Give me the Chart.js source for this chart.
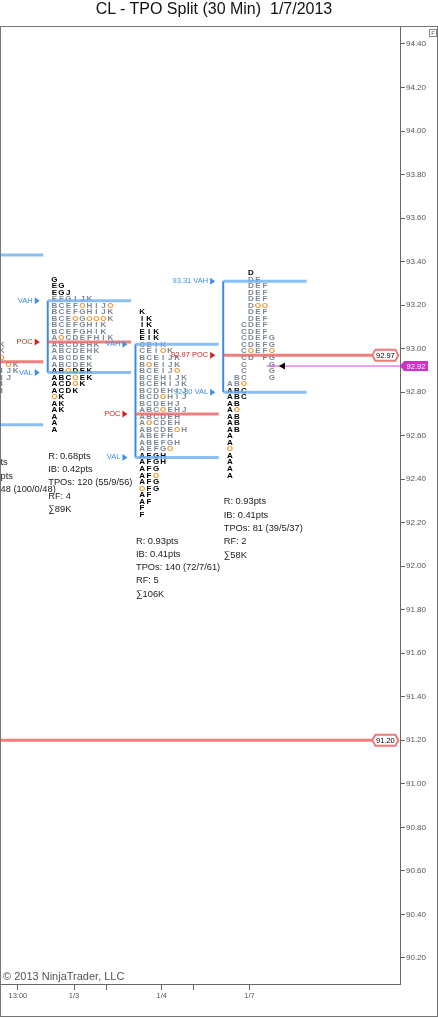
<!DOCTYPE html>
<html>
<head>
<meta charset="utf-8">
<script src="https://cdn.jsdelivr.net/npm/chart.js@4.4.0/dist/chart.umd.min.js"></script>
<style>
  html, body { margin: 0; padding: 0; background: #fff; }
  #wrap { position: relative; width: 438px; height: 1018px; }
  #title { position: absolute; top: 0; left: 0; width: 428px; height: 27px; line-height: 27px;
           text-align: center; font: 16px "Liberation Sans", Arial, sans-serif; color: #111; }
  canvas { position: absolute; top: 0; left: 0; }
</style>
</head>
<body>
<div id="wrap">
  <canvas id="tpo" width="438" height="1018"></canvas>
  <div id="title">CL - TPO Split (30 Min)&nbsp; 1/7/2013</div>
</div>
<script>
// sessions from left to right, x = session index
const sessionNames = ['1/2', '1/3', '1/4', '1/7'];
const sessionX = [0, 1, 2, 3];
const vahPrices = [93.43, 93.22, 93.02, 93.31];
const pocPrices = [92.94, 93.03, 92.70, 92.97];
const valPrices = [92.65, 92.89, 92.50, 92.80];
const topRowPrices = [93.02, 93.32, 93.17, 93.35];
const sessionLows = [92.60, 92.63, 92.24, 92.42];
const tpoSize = 0.03;

// TPO rows, top to bottom. 'o' = orange open/close mark, space = empty slot
const tpo0102 = ['     K', '     K', '     o', '      oK', '     IJK', '     IJ', '     I', '     I'];
const tpo0103 = ['G', 'EG', 'EGJ', 'EFGIJK', 'BCEFoHIJo', 'BCEFGHIJK', 'BCEoGoooK', 'BCEFGHIK',
  'BCEFGHIK', 'AoCDEFHIK', 'ABCDEHK', 'ABCDEHK', 'ABCDEK', 'ABCDEK', 'ABoDEK', 'ABCoEK',
  'ACDoK', 'ACDK', 'oK', 'AK', 'AK', 'A', 'A', 'A'];
const tpo0104 = ['K', 'IK', 'IK', 'EIK', 'EIK', 'CEIK', 'CEIoK', 'BCEIJK', 'BoEIJK', 'BCEIJo',
  'BCEHIJK', 'BCEHIJK', 'BCDEHIJ', 'BCDoHIJ', 'BCDEHJ', 'ABCoEHJ', 'ABCDEH', 'AoCDEH',
  'ABCDEoH', 'ABEFH', 'ABEFGH', 'AEFGo', 'AFGH', 'AFGH', 'AFG', 'AFo', 'AFG', 'oFG',
  'AF', 'AF', 'F', 'F'];
const tpo0107 = ['   D', '   DE', '   DEF', '   DEF', '   DEF', '   Doo', '   DEF', '   DEF',
  '  CDEF', '  CDEF', '  CDEFG', '  CDEFG', '  CoEFo', '  CD FG', '  C   G', '  C   G',
  ' BC   G', 'ABo', 'ABC', 'ABC', 'AB', 'Ao', 'AB', 'AB', 'AB', 'A', 'A', 'o', 'A', 'A', 'A', 'A'];
const profiles = [tpo0102, tpo0103, tpo0104, tpo0107];

// statistics under each profile (the 1/2 block is cut by the left edge)
const stats0102 = ['ts', 'pts', '48 (100/0/48)'];
const stats0103 = ['R: 0.68pts', 'IB: 0.42pts', 'TPOs: 120 (55/9/56)', 'RF: 4', '∑89K'];
const stats0104 = ['R: 0.93pts', 'IB: 0.41pts', 'TPOs: 140 (72/7/61)', 'RF: 5', '∑106K'];
const stats0107 = ['R: 0.93pts', 'IB: 0.41pts', 'TPOs: 81 (39/5/37)', 'RF: 2', '∑58K'];
const statsBlocks = [stats0102, stats0103, stats0104, stats0107];

const nakedPoc = 91.20;
const lastPrice = 92.92;

const priceTicks = [90.2, 90.4, 90.6, 90.8, 91.0, 91.2, 91.4, 91.6, 91.8, 92.0, 92.2,
  92.4, 92.6, 92.8, 93.0, 93.2, 93.4, 93.6, 93.8, 94.0, 94.2, 94.4];
const timeTickValues = [0.66, 1.30, 1.665, 2.30, 2.665, 3.30];
const timeTickLabels = ['13:00', '1/3', '', '1/4', '', '1/7'];

// layout constants (x units = sessions)
const X_MIN = 0.456, X_MAX = 5.015;
const COL0 = 0.075, COL_W = 0.08, LINE_LEN = 0.95, BOX_X = 4.70;
const FONT = '"Liberation Sans", Arial, sans-serif';
const BLUE_LINE = 'rgba(110,175,240,0.8)';
const RED_LINE = 'rgba(236,96,96,0.8)';

Chart.defaults.font.family = FONT;

function hline(x0, x1, y, color, width) {
  return { data: [{ x: x0, y: y }, { x: x1, y: y }], showLine: true, borderColor: color,
    borderWidth: width || 3, pointRadius: 0, tension: 0 };
}

// one point per letter, placed by the scales
function tpoPoints(rows, s) {
  const pts = [];
  rows.forEach((row, r) => {
    const price = topRowPrices[s] - r * tpoSize;
    const inVA = price <= vahPrices[s] + tpoSize / 2 + 1e-6 && price > valPrices[s] + tpoSize / 2 + 1e-6;
    [...row].forEach((ch, c) => {
      if (ch === ' ') return;
      pts.push({ x: sessionX[s] + COL0 + c * COL_W, y: price, ch: ch, inVA: inVA });
    });
  });
  return pts;
}

const datasets = [];
profiles.forEach((rows, s) => {
  datasets.push({ tpo: true, data: tpoPoints(rows, s), pointRadius: 0, showLine: false });
});
sessionX.forEach((sx, i) => {
  const last = i === sessionX.length - 1;
  datasets.push(hline(sx, sx + LINE_LEN, vahPrices[i], BLUE_LINE));
  datasets.push(hline(sx, sx + LINE_LEN, valPrices[i], BLUE_LINE));
  datasets.push(hline(sx, last ? BOX_X : sx + LINE_LEN, pocPrices[i], RED_LINE));
  datasets.push({ data: [{ x: sx, y: valPrices[i] }, { x: sx, y: vahPrices[i] }], showLine: true,
    borderColor: '#3a8ae0', borderWidth: 2, pointRadius: 0 });
});
datasets.push(hline(X_MIN, BOX_X, nakedPoc, RED_LINE));
datasets.push(hline(sessionX[3] + COL0 + 6 * COL_W - 0.06, X_MAX, lastPrice, '#e040e0', 1));

function vaLabel(ctx, text, color, xLine, y) {
  const tip = xLine - 8;
  ctx.fillStyle = color;
  ctx.beginPath();
  ctx.moveTo(tip, y); ctx.lineTo(tip - 5, y - 3.5); ctx.lineTo(tip - 5, y + 3.5);
  ctx.closePath(); ctx.fill();
  ctx.font = '7.5px ' + FONT;
  ctx.textAlign = 'right';
  ctx.textBaseline = 'middle';
  ctx.fillText(text, tip - 7, y);
}

function priceBox(ctx, x0, y, text) {
  const w = 26, h = 11, c = 3;
  ctx.beginPath();
  ctx.moveTo(x0 + c, y - h / 2); ctx.lineTo(x0 + w - c, y - h / 2); ctx.lineTo(x0 + w, y);
  ctx.lineTo(x0 + w - c, y + h / 2); ctx.lineTo(x0 + c, y + h / 2); ctx.lineTo(x0, y);
  ctx.closePath();
  ctx.fillStyle = '#fff'; ctx.fill();
  ctx.strokeStyle = '#f07878'; ctx.lineWidth = 2; ctx.stroke();
  ctx.fillStyle = '#000';
  ctx.font = '7.5px ' + FONT;
  ctx.textAlign = 'center'; ctx.textBaseline = 'middle';
  ctx.fillText(text, x0 + w / 2, y + 0.5);
}

const tpoPlugin = {
  id: 'tpo',
  beforeDatasetsDraw(chart) {
    const ctx = chart.ctx, a = chart.chartArea;
    ctx.save();
    ctx.beginPath(); ctx.rect(a.left, a.top, a.right - a.left, a.bottom - a.top); ctx.clip();
    ctx.font = 'bold 8px ' + FONT;
    ctx.textAlign = 'center'; ctx.textBaseline = 'middle';
    chart.data.datasets.forEach((ds, i) => {
      if (!ds.tpo) return;
      chart.getDatasetMeta(i).data.forEach((el, j) => {
        const p = ds.data[j];
        ctx.fillStyle = p.ch === 'o' ? '#f0952a' : (p.inVA ? '#7c8796' : '#000');
        ctx.fillText(p.ch === 'o' ? 'O' : p.ch, el.x, el.y + 0.5);
      });
    });
    ctx.restore();
  },
  afterDatasetsDraw(chart) {
    const ctx = chart.ctx, a = chart.chartArea;
    const xs = chart.scales.x, ys = chart.scales.y;
    const lastIdx = sessionX.length - 1;

    ctx.save();
    ctx.beginPath(); ctx.rect(a.left, a.top, a.right - a.left, a.bottom - a.top); ctx.clip();
    sessionX.forEach((sx, i) => {
      const px = xs.getPixelForValue(sx);
      const pre = i === lastIdx;
      vaLabel(ctx, (pre ? vahPrices[i].toFixed(2) + ' ' : '') + 'VAH', '#3d8fe2', px, ys.getPixelForValue(vahPrices[i]));
      vaLabel(ctx, (pre ? pocPrices[i].toFixed(2) + ' ' : '') + 'POC', '#d42020', px, ys.getPixelForValue(pocPrices[i]));
      vaLabel(ctx, (pre ? valPrices[i].toFixed(2) + ' ' : '') + 'VAL', '#3d8fe2', px, ys.getPixelForValue(valPrices[i]));

      // statistics block
      const tx = Math.max(px, a.left) + 0.5;
      const ty = ys.getPixelForValue(sessionLows[i]) + 27;
      ctx.fillStyle = '#222';
      ctx.font = '9.3px ' + FONT;
      ctx.textAlign = 'left'; ctx.textBaseline = 'middle';
      statsBlocks[i].forEach((line, k) => ctx.fillText(line, tx, ty + k * 13.3));
    });

    // last price arrow
    const ly = ys.getPixelForValue(lastPrice);
    const ax = xs.getPixelForValue(sessionX[lastIdx] + COL0 + 7 * COL_W);
    ctx.fillStyle = '#000';
    ctx.beginPath(); ctx.moveTo(ax, ly); ctx.lineTo(ax + 6, ly - 3.5); ctx.lineTo(ax + 6, ly + 3.5);
    ctx.closePath(); ctx.fill();

    // price boxes at the right edge
    const bx = xs.getPixelForValue(BOX_X);
    priceBox(ctx, bx, ys.getPixelForValue(pocPrices[lastIdx]), pocPrices[lastIdx].toFixed(2));
    priceBox(ctx, bx, ys.getPixelForValue(nakedPoc), nakedPoc.toFixed(2));

    ctx.fillStyle = '#555';
    ctx.font = '11px ' + FONT;
    ctx.textAlign = 'left'; ctx.textBaseline = 'middle';
    ctx.fillText('© 2013 NinjaTrader, LLC', a.left + 3, a.bottom - 7);
    ctx.restore();

    // current price tag on the axis
    ctx.save();
    const r = a.right;
    ctx.fillStyle = '#cc33cc';
    ctx.beginPath();
    ctx.moveTo(r, ly); ctx.lineTo(r + 4, ly - 5); ctx.lineTo(r + 28, ly - 5);
    ctx.lineTo(r + 28, ly + 5); ctx.lineTo(r + 4, ly + 5); ctx.closePath(); ctx.fill();
    ctx.fillStyle = '#fff';
    ctx.font = '7.5px ' + FONT;
    ctx.textAlign = 'center'; ctx.textBaseline = 'middle';
    ctx.fillText(lastPrice.toFixed(2), r + 16, ly + 0.5);

    // outer frame and the small F box
    ctx.strokeStyle = '#777'; ctx.lineWidth = 1;
    ctx.strokeRect(0.5, a.top - 0.5, chart.width - 1, chart.height - a.top - 1);
    ctx.strokeStyle = '#888';
    ctx.strokeRect(chart.width - 8.5, a.top + 2.5, 7, 7);
    ctx.fillStyle = '#666';
    ctx.font = '6px ' + FONT;
    ctx.fillText('F', chart.width - 5, a.top + 6.3);
    ctx.restore();
  }
};

new Chart(document.getElementById('tpo'), {
  type: 'scatter',
  data: { datasets: datasets },
  plugins: [tpoPlugin],
  options: {
    responsive: false,
    animation: false,
    events: [],
    layout: { padding: { top: 27, left: 0, right: 0, bottom: 0 } },
    plugins: { legend: { display: false }, tooltip: { enabled: false }, title: { display: false } },
    scales: {
      x: {
        type: 'linear', position: 'bottom', min: X_MIN, max: X_MAX,
        afterBuildTicks: s => { s.ticks = timeTickValues.map(v => ({ value: v })); },
        afterFit: s => { s.height = 34; },
        grid: { drawOnChartArea: false, drawTicks: true, tickLength: 6, color: '#666' },
        border: { display: true, color: '#666' },
        ticks: { autoSkip: false, maxRotation: 0, padding: 1, color: '#555', font: { size: 7.5 },
          callback: (v, i) => timeTickLabels[i] }
      },
      y: {
        type: 'linear', position: 'right', min: 90.08, max: 94.478,
        afterBuildTicks: s => { s.ticks = priceTicks.map(v => ({ value: v })); },
        afterFit: s => { s.width = 38; },
        grid: { drawOnChartArea: false, drawTicks: true, tickLength: 5, color: '#666' },
        border: { display: true, color: '#666' },
        ticks: { autoSkip: false, padding: 1, color: '#555', font: { size: 8 },
          callback: v => v.toFixed(2) }
      }
    }
  }
});
</script>
</body>
</html>
